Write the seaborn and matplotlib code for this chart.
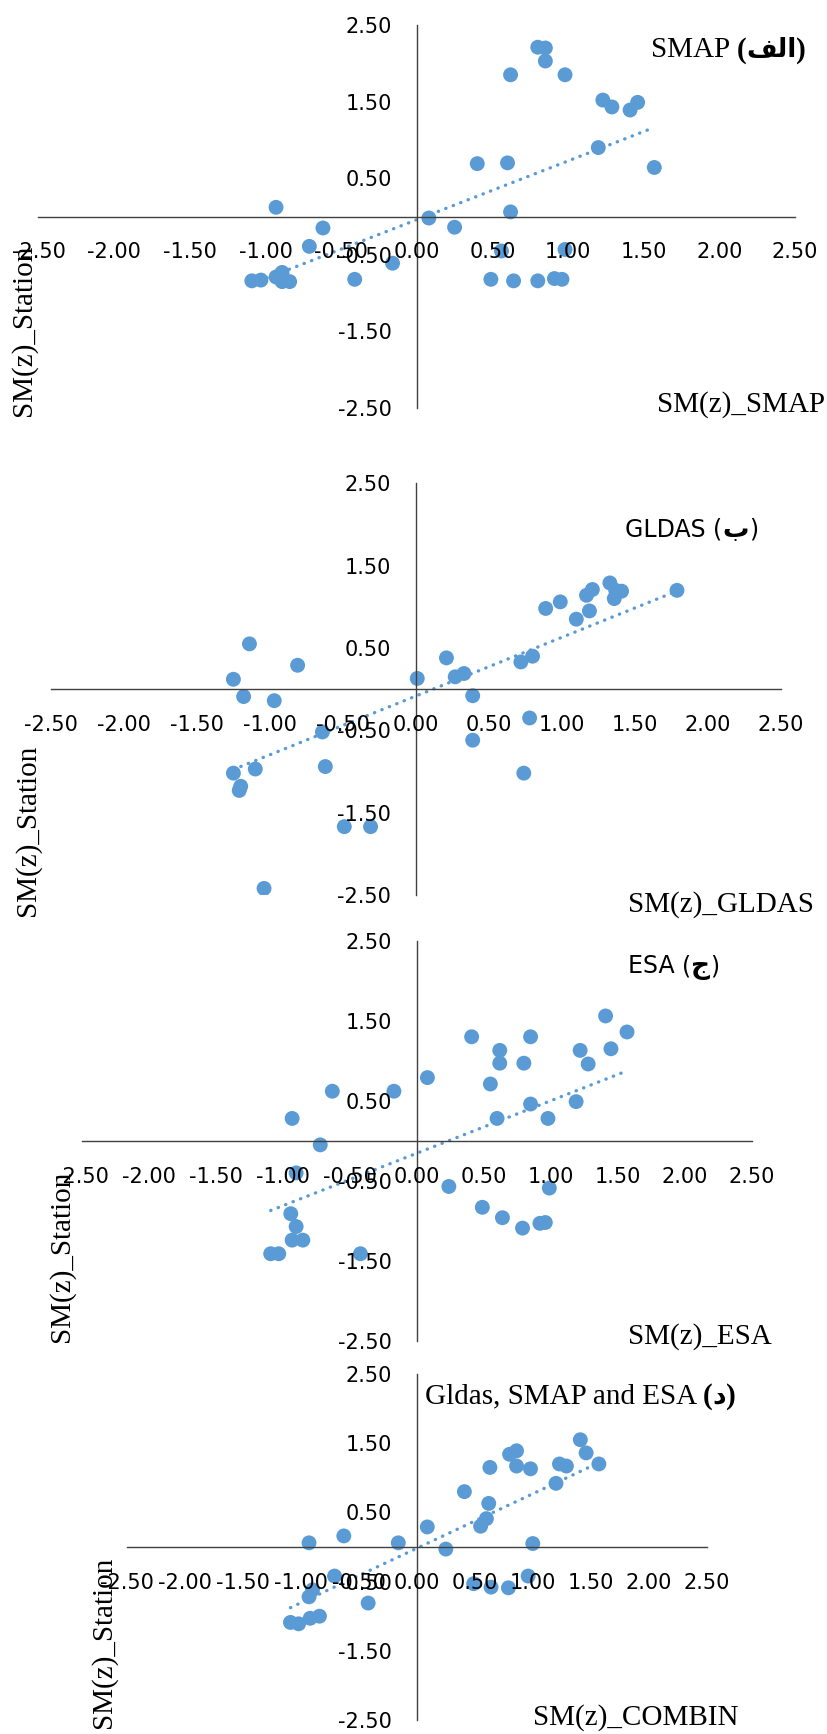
import numpy as np
import matplotlib
matplotlib.use('Agg')
import matplotlib.pyplot as plt
import seaborn as sns
from matplotlib.offsetbox import TextArea, HPacker, AnnotationBbox
from matplotlib.ticker import FormatStrFormatter

sns.set_style('white')
plt.rcParams['font.family'] = ['DejaVu Sans']
plt.rcParams['axes.unicode_minus'] = False

# z-scores
smap_x = [-1.09, -1.03, -0.93, -0.89, -0.89, -0.84, -0.93, -0.71, -0.62, -0.41, -0.16,
          0.08, 0.25, 0.62, 0.40, 0.60, 0.56, 0.98, 0.49, 0.64, 0.80, 0.91, 0.96,
          0.80, 0.85, 0.85, 0.62, 0.98, 1.23, 1.29, 1.41, 1.46, 1.20, 1.57]
smap_y = [-0.84, -0.83, -0.79, -0.73, -0.85, -0.85, 0.12, -0.39, -0.15, -0.82, -0.61,
          -0.02, -0.14, 0.06, 0.69, 0.70, -0.45, -0.43, -0.82, -0.84, -0.84, -0.81, -0.82,
          2.21, 2.20, 2.03, 1.85, 1.85, 1.52, 1.43, 1.39, 1.49, 0.90, 0.64]

gldas_x = [-1.14, -0.81, -1.25, -1.18, -0.97, 0.01, 0.21, 0.27, 0.33, 0.39, 0.72, 0.80,
           0.78, 0.39, 0.74, -0.64, -0.62, -1.10, -1.25, -1.20, -1.21, -0.49, -0.31, -1.04,
           0.89, 0.99, 1.10, 1.17, 1.21, 1.19, 1.33, 1.36, 1.37, 1.41, 1.79]
gldas_y = [0.55, 0.29, 0.12, -0.09, -0.14, 0.13, 0.38, 0.15, 0.19, -0.08, 0.33, 0.40,
           -0.35, -0.62, -1.02, -0.52, -0.94, -0.97, -1.02, -1.18, -1.23, -1.67, -1.67, -2.42,
           0.98, 1.06, 0.85, 1.14, 1.21, 0.95, 1.29, 1.10, 1.20, 1.19, 1.20]

esa_x = [-0.93, -0.72, -0.90, 0.60, 0.98, 0.24, 0.99, 0.49, 0.64, 0.79, 0.92, 0.96,
         -0.94, -0.90, -0.93, -0.85, -1.09, -1.03, -0.42, -0.63, -0.17, 0.08, 0.41, 0.62,
         0.62, 0.55, 0.85, 0.80, 0.85, 1.19, 1.22, 1.28, 1.41, 1.45, 1.57]
esa_y = [0.28, -0.05, -0.40, 0.28, 0.28, -0.57, -0.59, -0.83, -0.96, -1.09, -1.03, -1.02,
         -0.91, -1.07, -1.24, -1.24, -1.41, -1.41, -1.41, 0.62, 0.62, 0.79, 1.30, 1.13,
         0.97, 0.71, 1.30, 0.97, 0.46, 0.49, 1.13, 0.96, 1.56, 1.15, 1.36]

comb_x = [-0.93, -0.63, -0.16, 0.09, 0.25, 1.00, 0.55, 0.60, 0.62, -0.71, -0.42, 0.49,
          0.64, 0.79, 0.96, -0.93, -0.90, -1.09, -1.02, -0.92, -0.84, 0.41, 0.63, 0.80,
          0.86, 0.86, 0.98, 1.20, 1.23, 1.29, 1.41, 1.46, 1.57]
comb_y = [0.06, 0.16, 0.06, 0.29, -0.03, 0.05, 0.30, 0.41, 0.63, -0.42, -0.81, -0.53,
          -0.58, -0.59, -0.42, -0.72, -0.62, -1.09, -1.11, -1.03, -1.00, 0.80, 1.15, 1.34,
          1.39, 1.17, 1.13, 0.92, 1.20, 1.17, 1.55, 1.36, 1.20]

x_ticks = [-2.5, -2.0, -1.5, -1.0, -0.5, 0.0, 0.5, 1.0, 1.5, 2.0, 2.5]
y_ticks = [-2.5, -1.5, -0.5, 0.5, 1.5, 2.5]

y_label = 'SM(z)_Station'
x_labels = ['SM(z)_SMAP', 'SM(z)_GLDAS', 'SM(z)_ESA', 'SM(z)_COMBIN']
title_latin = ['SMAP ', 'GLDAS ', 'ESA ', 'Gldas, SMAP and ESA ']
title_arabic = ['\ufed2\ufedf\ufe8d', '\u0628', '\u062c', '\u062f']

W, H = 827, 1734
BLUE = '#5B9BD5'
serif = dict(family='Liberation Serif', size=21, color='black')
serif_b = dict(family='Liberation Serif', size=21, weight='bold', color='black')
sans = dict(family='DejaVu Sans', size=17, color='black')
arab = dict(family='DejaVu Sans', weight='bold', size=19, color='black')

# pixel boxes of each plot area: left, right, top, bottom
boxes = [(38.5, 795, 25, 408), (51, 780.6, 483.3, 895),
         (81.8, 751.6, 940.7, 1341), (127, 706.7, 1374, 1720)]
ylab_pos = [(24, 330), (28, 830), (62, 1256), (104, 1642)]
xlab_pos = [(657, 405), (628, 905), (628, 1337), (533, 1718)]
title_pos = [(651, 50), (625, 530), (628, 967), (425, 1396)]
title_font = [serif, sans, sans, serif]
paren_font = [serif_b, sans, sans, serif_b]

data = [(smap_x, smap_y), (gldas_x, gldas_y), (esa_x, esa_y), (comb_x, comb_y)]

fig = plt.figure(figsize=(W / 100, H / 100), dpi=100)

for i, (xs, ys) in enumerate(data):
    l, r, t, b = boxes[i]
    ax = fig.add_axes([l / W, 1 - b / H, (r - l) / W, (b - t) / H])
    sns.scatterplot(x=xs, y=ys, ax=ax, s=115, color=BLUE, edgecolor='none',
                    linewidth=0, zorder=1)
    sns.regplot(x=np.array(xs), y=np.array(ys), ax=ax, scatter=False, ci=None,
                truncate=True, color=BLUE,
                line_kws=dict(lw=2.4, ls=(0, (0.1, 2.3)), dash_capstyle='round', zorder=2))
    ax.set_xlim(-2.5, 2.5)
    ax.set_ylim(-2.5, 2.5)
    ax.set_xlabel('')
    ax.set_ylabel('')
    ax.set_xticks(x_ticks)
    ax.set_yticks(y_ticks)
    ax.xaxis.set_major_formatter(FormatStrFormatter('%.2f'))
    ax.yaxis.set_major_formatter(FormatStrFormatter('%.2f'))
    ax.tick_params(axis='x', length=0, pad=18.5, labelsize=15, colors='black')
    ax.tick_params(axis='y', length=0, pad=18, labelsize=15, colors='black')
    for side in ['top', 'right']:
        ax.spines[side].set_visible(False)
    for side in ['left', 'bottom']:
        ax.spines[side].set_position('zero')
        ax.spines[side].set_color('#404040')
        ax.spines[side].set_linewidth(1.0)
    ax.set_axisbelow(False)
    ax.patch.set_alpha(0)

    px, py = ylab_pos[i]
    fig.text(px / W, 1 - py / H, y_label, rotation=90, ha='center', va='center', **serif)
    px, py = xlab_pos[i]
    fig.text(px / W, 1 - py / H, x_labels[i], ha='left', va='center', **serif)

    parts = [TextArea(title_latin[i], textprops=title_font[i]),
             TextArea('(', textprops=paren_font[i]),
             TextArea(title_arabic[i], textprops=arab),
             TextArea(')', textprops=paren_font[i])]
    pack = HPacker(children=parts, align='baseline', pad=0, sep=0)
    px, py = title_pos[i]
    ab = AnnotationBbox(pack, (px / W, 1 - py / H), xycoords='figure fraction',
                        box_alignment=(0, 0.5), frameon=False, pad=0,
                        annotation_clip=False)
    ax.add_artist(ab)

fig.savefig('out.png', dpi=100, facecolor='white')
